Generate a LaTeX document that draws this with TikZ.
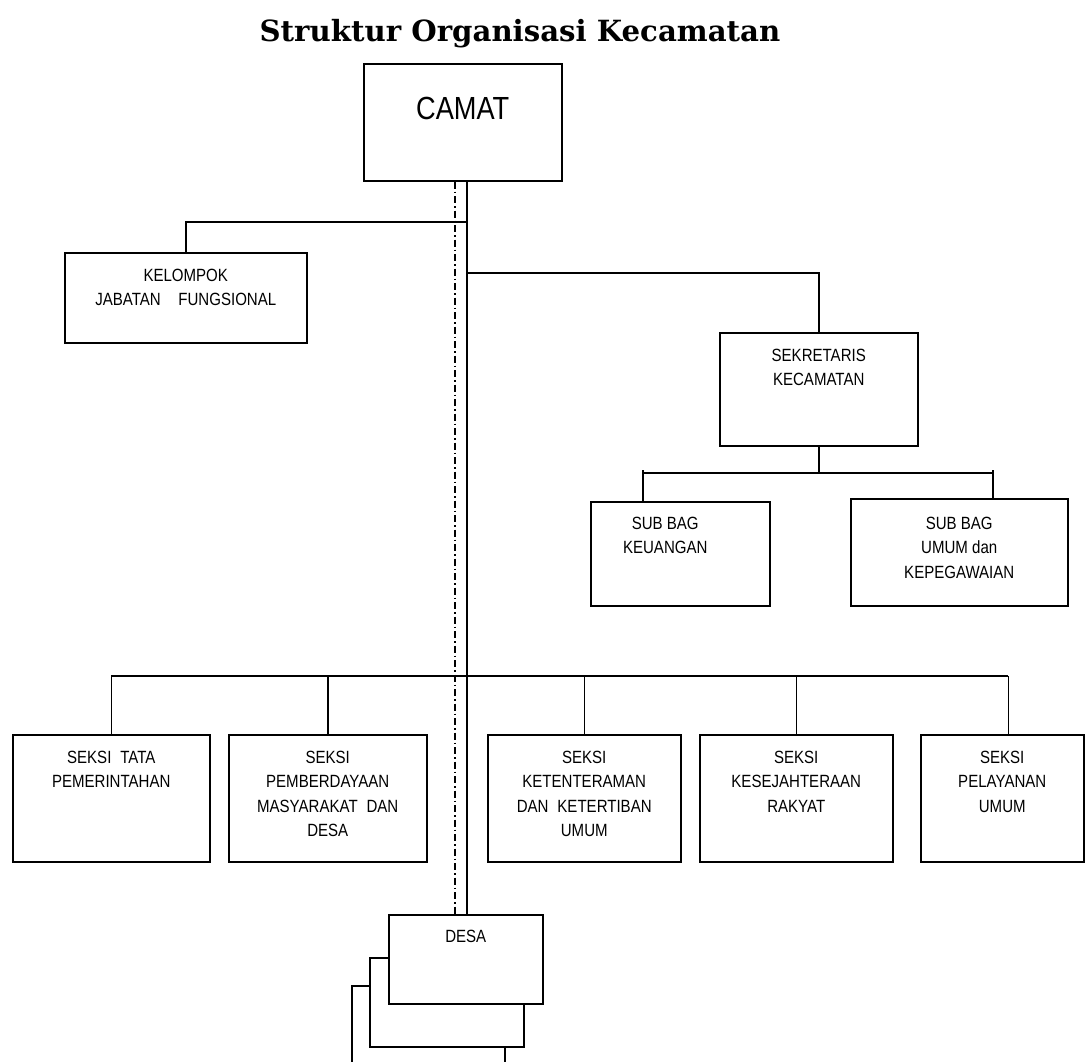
\documentclass[tikz,border=0pt]{standalone}
\usepackage{fontspec}
\setmainfont{Liberation Sans}[FakeStretch=0.85]
\newfontfamily\titlefont{DejaVu Serif}
\usetikzlibrary{positioning}
\tikzset{
  box/.style={draw, line width=1.5pt, fill=white, anchor=north west, inner sep=0pt},
  txt/.style={anchor=north, align=center, inner sep=0pt, font=\fontsize{17.7}{24.5}\selectfont},
  link/.style={line width=1.5pt},
  dashdot/.style={line width=1.5pt, dash pattern=on 7pt off 3pt on 1.5pt off 3pt}
}
\begin{document}
\begin{tikzpicture}[x=1pt, y=-1pt]
      \useasboundingbox (0,0) rectangle (1085,1061);
      \clip (0,0) rectangle (1085,1061);
      \node[anchor=base, inner sep=0pt, font=\titlefont\bfseries\fontsize{29.2}{31}\selectfont] (title) at (520,41) {Struktur Organisasi Kecamatan};
      \node[box, minimum width=198pt, minimum height=117pt] (camat) at (363,63) {};
      \node[txt, below=33.5pt of camat.north, font=\fontsize{32}{36}\selectfont] (camatTxt) {CAMAT};
      \node[box, minimum width=242pt, minimum height=90pt] (kelompok) at (64,252) {};
      \node[txt, below=16.6pt of kelompok.north] (kelompokTxt) {KELOMPOK\\JABATAN\quad FUNGSIONAL};
      \node[box, minimum width=198pt, minimum height=113pt] (sekretaris) at (719,332) {};
      \node[txt, below=16.6pt of sekretaris.north] (sekretarisTxt) {SEKRETARIS\\KECAMATAN};
      \node[box, minimum width=179pt, minimum height=104pt] (subkeu) at (590,501) {};
      \node[txt, below=15.6pt of subkeu.north, xshift=-15pt] (subkeuTxt) {SUB BAG\\KEUANGAN};
      \node[box, minimum width=217pt, minimum height=107pt] (subumum) at (850,498) {};
      \node[txt, below=18.6pt of subumum.north] (subumumTxt) {SUB BAG\\UMUM dan\\KEPEGAWAIAN};
      \node[box, minimum width=197pt, minimum height=127pt] (seksiA) at (12,734) {};
      \node[txt, below=16.6pt of seksiA.north] {SEKSI\enspace TATA\\PEMERINTAHAN};
      \node[box, minimum width=198pt, minimum height=127pt] (seksiB) at (228,734) {};
      \node[txt, below=16.6pt of seksiB.north] {SEKSI\\PEMBERDAYAAN\\MASYARAKAT\enspace DAN\\DESA};
      \node[box, minimum width=193pt, minimum height=127pt] (seksiC) at (487,734) {};
      \node[txt, below=16.6pt of seksiC.north] {SEKSI\\KETENTERAMAN\\DAN\enspace KETERTIBAN\\UMUM};
      \node[box, minimum width=193pt, minimum height=127pt] (seksiD) at (699,734) {};
      \node[txt, below=16.6pt of seksiD.north] {SEKSI\\KESEJAHTERAAN\\RAKYAT};
      \node[box, minimum width=163pt, minimum height=127pt] (seksiE) at (920,734) {};
      \node[txt, below=16.6pt of seksiE.north] {SEKSI\\PELAYANAN\\UMUM};
      \node[box, minimum width=153pt, minimum height=100pt] (desaC) at (351,985) {};
      \node[box, minimum width=154pt, minimum height=89pt] (desaB) at (369,957) {};
      \node[box, minimum width=154pt, minimum height=89pt] (desa) at (388,914) {};
      \node[txt, below=15.6pt of desa.north] (desaTxt) {DESA};
      \coordinate (spine) at (467,0);
      \coordinate (ghost) at (455,0);
      \coordinate (bus) at (0,676);
      \coordinate (keuDrop) at (643,470);
      \coordinate (umumDrop) at (993,470);
      \draw[link] (camat.south -| spine) -- (desa.north -| spine);
      \draw[dashdot] (camat.south -| ghost) -- (desa.north -| ghost);
      \draw[link] (spine |- 0,222) -| (kelompok.north);
      \draw[link] (spine |- 0,273) -| (sekretaris.north);
      \draw[link] (sekretaris.south) -- (sekretaris.south |- 0,473);
      \draw[link] ([yshift=-3pt]keuDrop) -- ([yshift=-3pt]umumDrop);
      \draw[link] (keuDrop) -- (keuDrop |- subkeu.north);
      \draw[link] (umumDrop) -- (umumDrop |- subumum.north);
      \draw[link] (seksiA.north |- bus) -- ([xshift=6pt]seksiE.north |- bus);
      \foreach \s in {seksiA, seksiB, seksiC, seksiD}
        \draw[link] (\s.north |- bus) -- (\s.north);
      \draw[link] ([xshift=6pt]seksiE.north |- bus) -- ([xshift=6pt]seksiE.north);
\end{tikzpicture}
\end{document}
